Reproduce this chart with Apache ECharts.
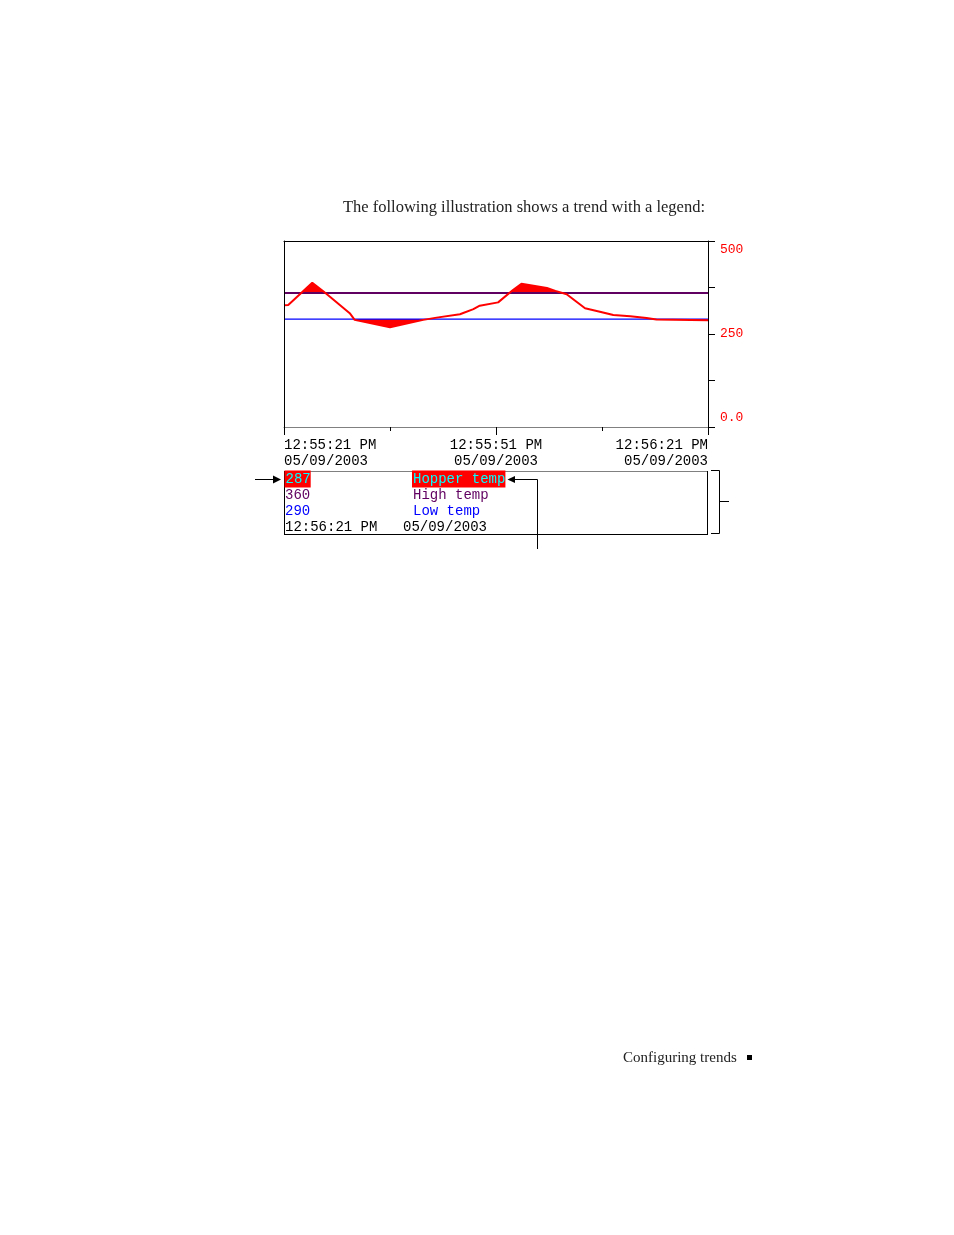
<!DOCTYPE html>
<html>
<head>
<meta charset="utf-8">
<script src="https://cdn.jsdelivr.net/npm/echarts@6/dist/echarts.min.js"></script>
<style>
html,body{margin:0;padding:0;background:#fff;}
#c{width:954px;height:1235px;}
</style>
</head>
<body>
<div id="c"></div>
<script>
// ---- data ----
const titleText = 'The following illustration shows a trend with a legend:';
const footerText = 'Configuring trends';
const timeSec = [0, 0.6, 4.0, 5.6, 6.5, 7.9, 9.3, 10.0, 15.0, 19.7, 21.6, 24.9, 26.8, 27.7, 30.3, 32.4, 33.6, 35.3, 37.2, 38.4, 40.0, 42.6, 44.7, 46.6, 49.0, 51.3, 52.7, 60];
const hopperTemp = [327, 328, 388, 364, 350, 328, 306, 288, 268, 288, 294, 303, 317, 326, 335, 368, 385, 380, 374, 366, 357, 319, 310, 301, 298, 293, 289, 287];
const xTickTimes = ['12:55:21 PM', '12:55:51 PM', '12:56:21 PM'];
const xTickDates = ['05/09/2003', '05/09/2003', '05/09/2003'];
const yTickValues = [0, 250, 500];
const yTickText = ['0.0', '250', '500'];
const legendNames = ['Hopper temp', 'High temp', 'Low temp'];
const legendValues = [287, 360, 290];
const cursorTime = '12:56:21 PM';
const cursorDate = '05/09/2003';

const highLimit = legendValues[1];
const lowLimit = legendValues[2];
const tMin = 0, tMax = 60;

const RED = '#ff0000', PURPLE = '#600060', BLUE = '#0000ff', CYAN = '#00ffff';
const MONO = 'Liberation Mono, DejaVu Sans Mono, monospace';
const SERIF = 'Liberation Serif, DejaVu Serif, serif';

const chart = echarts.init(document.getElementById('c'), null, {renderer: 'canvas'});

const hopperData = timeSec.map((t, i) => [t, hopperTemp[i]]);
const flat = (v) => [[tMin, v], [tMax, v]];

// legend rows
const rowY = [479, 495.5, 511.5, 527.5];
const valColors = [CYAN, PURPLE, BLUE];
const legendChildren = [];
for (let i = 0; i < 3; i++) {
  const hl = i === 0;
  legendChildren.push({
    type: 'text', x: hl ? 284.5 : 285, y: rowY[i],
    style: Object.assign({text: String(legendValues[i]), fill: valColors[i], font: '14px ' + MONO, verticalAlign: 'middle'},
      hl ? {backgroundColor: RED, padding: [2, 0, 1, 1]} : {})
  });
  legendChildren.push({
    type: 'text', x: hl ? 412 : 413, y: rowY[i],
    style: Object.assign({text: legendNames[i], fill: valColors[i], font: '14px ' + MONO, verticalAlign: 'middle'},
      hl ? {backgroundColor: RED, padding: [2, 0, 1, 1]} : {})
  });
}
legendChildren.push({type: 'text', x: 285, y: rowY[3], style: {text: cursorTime, fill: '#000', font: '14px ' + MONO, verticalAlign: 'middle'}});
legendChildren.push({type: 'text', x: 403, y: rowY[3], style: {text: cursorDate, fill: '#000', font: '14px ' + MONO, verticalAlign: 'middle'}});

const lineStyleBlack = {stroke: '#000', lineWidth: 1};

const option = {
  animation: false,
  grid: {left: 284, top: 241, width: 424, height: 186, show: false},
  xAxis: [{
    type: 'value', min: tMin, max: tMax, interval: 30, position: 'bottom', z: 10,
    axisLine: {show: true, onZero: false, lineStyle: {color: '#808080', width: 1}},
    axisTick: {show: true, length: 8, lineStyle: {color: '#000'}},
    minorTick: {show: true, splitNumber: 2, length: 4, lineStyle: {color: '#000'}},
    splitLine: {show: false},
    axisLabel: {
      show: true, margin: 10, color: '#000', fontFamily: MONO, fontSize: 14, lineHeight: 16,
      alignMinLabel: 'left', alignMaxLabel: 'right',
      formatter: (v) => {
        const i = Math.round((v - tMin) / 30);
        return xTickTimes[i] + '\n' + xTickDates[i];
      }
    }
  }, {
    type: 'value', min: tMin, max: tMax, position: 'top', z: 10,
    axisLine: {show: true, onZero: false, lineStyle: {color: '#000', width: 1}},
    axisTick: {show: false}, axisLabel: {show: false}, splitLine: {show: false}
  }],
  yAxis: [{
    type: 'value', min: 0, max: 500, interval: 125, position: 'right', z: 10,
    axisLine: {show: true, onZero: false, lineStyle: {color: '#000', width: 1}},
    axisTick: {show: true, length: 7, lineStyle: {color: '#000'}},
    splitLine: {show: false},
    axisLabel: {
      show: true, margin: 12, color: RED, fontFamily: MONO, fontSize: 13,
      formatter: (v) => {
        const i = yTickValues.indexOf(v);
        if (i < 0) return '';
        if (v === 500) return '{d|' + yTickText[i] + '}';
        if (v === 0) return '{u|' + yTickText[i] + '}';
        return yTickText[i];
      },
      rich: {
        d: {padding: [18, 0, 0, 0], color: RED, fontFamily: MONO, fontSize: 13},
        u: {padding: [0, 0, 18, 0], color: RED, fontFamily: MONO, fontSize: 13}
      }
    }
  }, {
    type: 'value', min: 0, max: 500, position: 'left', z: 10,
    axisLine: {show: true, onZero: false, lineStyle: {color: '#000', width: 1}},
    axisTick: {show: false}, axisLabel: {show: false}, splitLine: {show: false}
  }],
  series: [
    { // red fill between trend and high limit
      type: 'line', name: 'fill', data: hopperData, symbol: 'none', silent: true, z: 1,
      lineStyle: {width: 0, opacity: 0},
      areaStyle: {color: RED, opacity: 1, origin: highLimit}
    },
    { // white band between low and high limits
      type: 'line', name: 'band', data: flat(highLimit), symbol: 'none', silent: true, z: 2,
      lineStyle: {width: 0, opacity: 0},
      areaStyle: {color: '#ffffff', opacity: 1, origin: lowLimit}
    },
    {
      type: 'line', name: legendNames[1], data: flat(highLimit), symbol: 'none', z: 3,
      lineStyle: {color: PURPLE, width: 2}
    },
    {
      type: 'line', name: legendNames[2], data: flat(lowLimit), symbol: 'none', z: 3,
      lineStyle: {color: BLUE, width: 1.4}
    },
    {
      type: 'line', name: legendNames[0], data: hopperData, symbol: 'none', z: 4,
      lineStyle: {color: RED, width: 2}
    }
  ],
  graphic: [
    {type: 'text', x: 343, y: 208, style: {text: titleText, fill: '#222', font: '16.5px ' + SERIF, verticalAlign: 'middle'}},
    {type: 'text', x: 623, y: 1058, style: {text: footerText, fill: '#222', font: '15px ' + SERIF, verticalAlign: 'middle'}},
    {type: 'rect', shape: {x: 747, y: 1055, width: 5, height: 5}, style: {fill: '#000'}},
    // legend box
    {type: 'line', shape: {x1: 284, y1: 471.5, x2: 708, y2: 471.5}, style: {stroke: '#808080', lineWidth: 1}},
    {type: 'line', shape: {x1: 284.5, y1: 471, x2: 284.5, y2: 534.5}, style: lineStyleBlack},
    {type: 'line', shape: {x1: 707.5, y1: 471, x2: 707.5, y2: 534.5}, style: lineStyleBlack},
    {type: 'line', shape: {x1: 284, y1: 534.5, x2: 708, y2: 534.5}, style: lineStyleBlack},
    // left arrow
    {type: 'line', shape: {x1: 255, y1: 479.5, x2: 274, y2: 479.5}, style: lineStyleBlack},
    {type: 'polygon', shape: {points: [[281, 479.5], [273, 475.5], [273, 483.5]]}, style: {fill: '#000'}},
    // right arrow
    {type: 'polyline', shape: {points: [[537.5, 549], [537.5, 479.5], [514, 479.5]]}, style: {stroke: '#000', lineWidth: 1, fill: null}},
    {type: 'polygon', shape: {points: [[507.5, 479.5], [515, 476], [515, 483]]}, style: {fill: '#000'}},
    // bracket
    {type: 'polyline', shape: {points: [[711, 470.5], [719.5, 470.5], [719.5, 533.5], [711, 533.5]]}, style: {stroke: '#000', lineWidth: 1, fill: null}},
    {type: 'line', shape: {x1: 719.5, y1: 501.5, x2: 729, y2: 501.5}, style: lineStyleBlack},
    {type: 'group', children: legendChildren}
  ]
};
chart.setOption(option);
</script>
</body>
</html>
